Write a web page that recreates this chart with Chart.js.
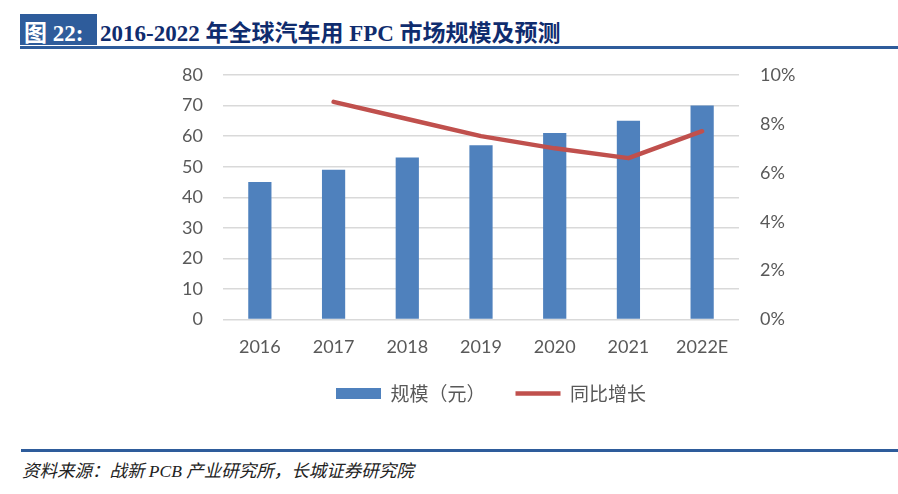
<!DOCTYPE html>
<html>
<head>
<meta charset="utf-8">
<script src="https://cdn.jsdelivr.net/npm/chart.js@4.4.0/dist/chart.umd.min.js"></script>
<style>
  html, body { margin: 0; padding: 0; background: #fff; }
  body { width: 898px; height: 494px; position: relative; overflow: hidden; }
  #tbox { position: absolute; left: 20px; top: 14px; width: 77px; height: 31px; background: #2E5C9B; }
  #tlabel { position: absolute; left: 24px; top: 14px; height: 31px; line-height: 31px; color: #fff;
    font: bold 23px "Liberation Serif", "Noto Sans CJK SC", serif; white-space: nowrap; }
  #title { position: absolute; left: 100px; top: 14px; height: 31px; line-height: 31px; color: #0F2C6E;
    font: bold 23px "Liberation Serif", "Noto Sans CJK SC", serif; white-space: nowrap; }
  #tline { position: absolute; left: 20px; top: 46px; width: 878px; height: 3px; background: #2E5C9B; }
  #fline { position: absolute; left: 21px; top: 449px; width: 877px; height: 3px; background: #2E5C9B; }
  #footer { position: absolute; left: 22px; top: 457px; height: 22px; line-height: 22px; color: #222;
    font: italic 17.5px "Liberation Serif", "Noto Sans CJK SC", serif; white-space: nowrap; }
  #wrap { position: absolute; left: 0; top: 0; width: 898px; height: 440px; }
</style>
</head>
<body>
<div id="tbox"></div>
<div id="tlabel">图 22:</div>
<div id="title">2016-2022 年全球汽车用 FPC 市场规模及预测</div>
<div id="tline"></div>
<div id="wrap"><canvas id="c"></canvas></div>
<div id="fline"></div>
<div id="footer">资料来源：战新 PCB 产业研究所，长城证券研究院</div>
<script>
const categories = ['2016', '2017', '2018', '2019', '2020', '2021', '2022E'];
const marketSize = [45, 49, 53, 57, 61, 65, 70];
const growthRate = [null, 0.089, 0.082, 0.075, 0.070, 0.066, 0.077];
const leftTicks = [0, 10, 20, 30, 40, 50, 60, 70, 80];
const rightTicks = ['0%', '2%', '4%', '6%', '8%', '10%'];

const tickFont = { family: 'Lato, "Noto Sans", sans-serif', size: 18 };
const tickColor = '#595959';

new Chart(document.getElementById('c'), {
  data: {
    labels: categories,
    datasets: [
      {
        type: 'bar',
        label: '规模（元）',
        data: marketSize,
        backgroundColor: '#4F81BD',
        borderWidth: 0,
        categoryPercentage: 1,
        barPercentage: 0.315,
        pointStyle: 'rect',
        yAxisID: 'y',
        order: 2
      },
      {
        type: 'line',
        label: '同比增长',
        data: growthRate,
        borderColor: '#C0504D',
        backgroundColor: '#C0504D',
        borderWidth: 4.5,
        borderCapStyle: 'round',
        borderJoinStyle: 'round',
        pointRadius: 0,
        pointHoverRadius: 0,
        pointStyle: 'line',
        tension: 0,
        spanGaps: false,
        yAxisID: 'y1',
        order: 1
      }
    ]
  },
  options: {
    responsive: true,
    maintainAspectRatio: false,
    animation: false,
    layout: { padding: { top: 75, left: 84, right: 0, bottom: 27 } },
    plugins: {
      tooltip: { enabled: false },
      legend: {
        position: 'bottom',
        labels: {
          usePointStyle: true,
          pointStyleWidth: 45,
          boxHeight: 11,
          padding: 30,
          color: '#595959',
          font: { family: '"Noto Sans CJK SC", sans-serif', size: 19 },
          sort: (a, b) => a.datasetIndex - b.datasetIndex
        }
      }
    },
    scales: {
      x: {
        grid: { display: false, drawTicks: false },
        border: { display: false },
        ticks: { font: tickFont, color: tickColor, padding: 17 },
        afterFit: (s) => { s.height = 34.5; }
      },
      y: {
        position: 'left',
        min: 0,
        max: 80,
        afterBuildTicks: (s) => { s.ticks = leftTicks.map(v => ({ value: v })); },
        grid: { color: '#D9D9D9', lineWidth: 1.5, drawTicks: false },
        border: { display: false },
        ticks: { font: tickFont, color: tickColor, padding: 20 },
        afterFit: (s) => { s.width = 139; }
      },
      y1: {
        position: 'right',
        min: 0,
        max: 0.1,
        afterBuildTicks: (s) => { s.ticks = rightTicks.map(t => ({ value: parseFloat(t) / 100 })); },
        grid: { drawOnChartArea: false, drawTicks: false },
        border: { display: false },
        ticks: {
          font: tickFont, color: tickColor, padding: 21,
          callback: (v) => rightTicks[Math.round(v * 50)]
        },
        afterFit: (s) => { s.width = 159; }
      }
    }
  }
});
</script>
</body>
</html>
